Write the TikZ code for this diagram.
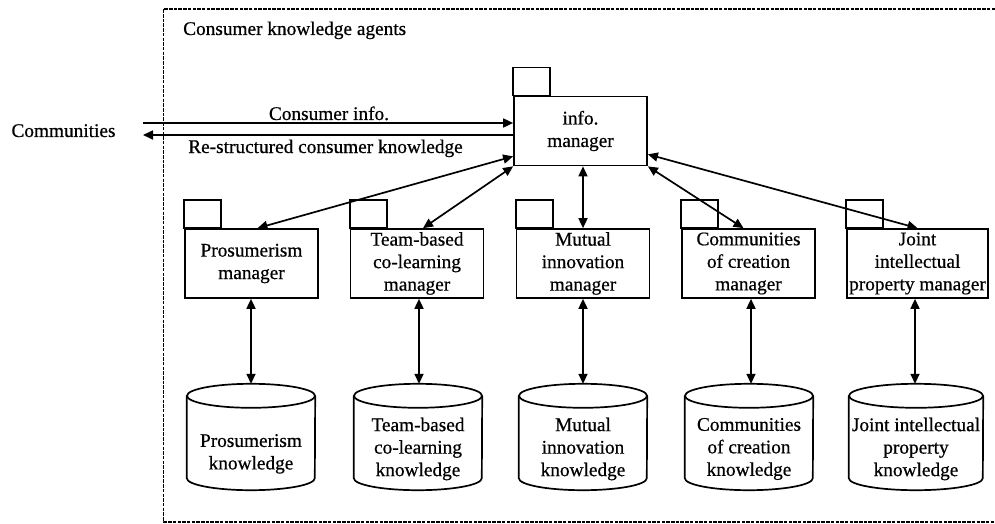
\documentclass[tikz,border=0pt]{standalone}
\usepackage{fontspec}
\setmainfont{Liberation Serif}[FakeBold=0.6]
\usetikzlibrary{arrows.meta,calc}

% cylinder outline around a body node: #1 = node name, #2 = x radius
\newcommand\dbshape[2]{%
  \draw[outline] ($(#1.north west)+(0,12)$) -- ($(#1.south west)+(0,12)$)
    arc (180:360:#2 and 12) -- ($(#1.north east)+(0,12)$);
  \draw[outline] ($(#1.north)+(0,12)$) ellipse (#2 and 12);
}
% folder tab on top of a manager box
\newcommand\mgrtab[1]{%
  \draw[outline] (#1.north west) rectangle ++(37,28);
}

\begin{document}
\begin{tikzpicture}[x=1pt,y=1pt,
  every node/.style={font=\fontsize{19.3}{22.5}\selectfont, inner sep=0pt},
  outline/.style={line width=1.7pt},
  mgr/.style={draw, outline, minimum width=133pt, minimum height=69pt, align=center},
  dbbody/.style={minimum width=128pt, minimum height=82pt, align=center},
  link/.style={line width=1.7pt, {Triangle[length=10pt,width=9pt]}-{Triangle[length=10pt,width=9pt]}},
  oneway/.style={line width=1.7pt, -{Triangle[length=10pt,width=9pt]}},
  frame/.style={line width=1.5pt, dash pattern=on 3.5pt off 1.2pt}
]
\useasboundingbox (0,0) rectangle (995,523);

% agent boundary (open on the right)
\draw[frame] (995,514) -- (163.5,514) -- (163.5,1.2) -- (995,1.2);
\node[anchor=base west] (title) at (183,488) {Consumer knowledge agents};

% central manager
\node[mgr] (info) at (580.5,392) {info.\\manager};
\mgrtab{info}

% external party
\node[anchor=base] (communities) at (63.5,386) {Communities};
\coordinate (cin) at (143,400);
\coordinate (cout) at (143,388);
\draw[oneway] (cin) -- (cin -| info.west);
\draw[oneway] (cout -| info.west) -- (cout);
\node[anchor=base] (lblin) at (329,403) {Consumer info.};
\node[anchor=base] (lblout) at (325.5,370) {Re-structured consumer knowledge};

% specialised managers
\node[mgr] (pros) at (251.5,259.5) {Prosumerism\\manager};
\node[mgr] (team) at (417,259.5) {Team-based\\co-learning\\manager};
\node[mgr] (mutual) at (583,259.5) {Mutual\\innovation\\manager};
\node[mgr] (comm) at (748.5,259.5) {Communities\\of creation\\manager};
\node[mgr, minimum width=141pt] (joint) at (917.5,259.5) {Joint\\intellectual\\property manager};
\foreach \m in {pros,team,mutual,comm,joint} {\mgrtab{\m}}

% knowledge stores (two-line label sits on the lower two lines)
\node[dbbody] (kpros) at (251,74) {\mbox{}\\Prosumerism\\knowledge};
\node[dbbody] (kteam) at (418,74) {Team-based\\co-learning\\knowledge};
\node[dbbody] (kmutual) at (583,74) {Mutual\\innovation\\knowledge};
\node[dbbody] (kcomm) at (749,74) {Communities\\of creation\\knowledge};
\node[dbbody, minimum width=134pt] (kjoint) at (916,74) {Joint intellectual\\property\\knowledge};
\dbshape{kpros}{64}
\dbshape{kteam}{64}
\dbshape{kmutual}{64}
\dbshape{kcomm}{64}
\dbshape{kjoint}{67}

% manager <-> info manager
\draw[link] ($(info.south west)+(0,10)$) -- ($(pros.north)+(6,0)$);
\draw[link] (info.south west) -- ($(team.north)+(6,0)$);
\draw[link] (mutual.north |- info.south) -- (mutual.north);
\draw[link] (info.south east) -- ($(comm.north)+(-5,0)$);
\draw[link] ($(info.south east)+(0,12)$) -- (joint.north);

% manager <-> knowledge store
\draw[link] (kpros.north |- pros.south) -- ($(kpros.north)+(0,24)$);
\draw[link] ($(kteam.north |- team.south)+(1,0)$) -- ($(kteam.north)+(1,24)$);
\draw[link] (kmutual.north |- mutual.south) -- ($(kmutual.north)+(0,24)$);
\draw[link] ($(kcomm.north |- comm.south)+(2,0)$) -- ($(kcomm.north)+(2,24)$);
\draw[link] ($(kjoint.north |- joint.south)+(-1,0)$) -- ($(kjoint.north)+(-1,24)$);
\end{tikzpicture}
\end{document}
